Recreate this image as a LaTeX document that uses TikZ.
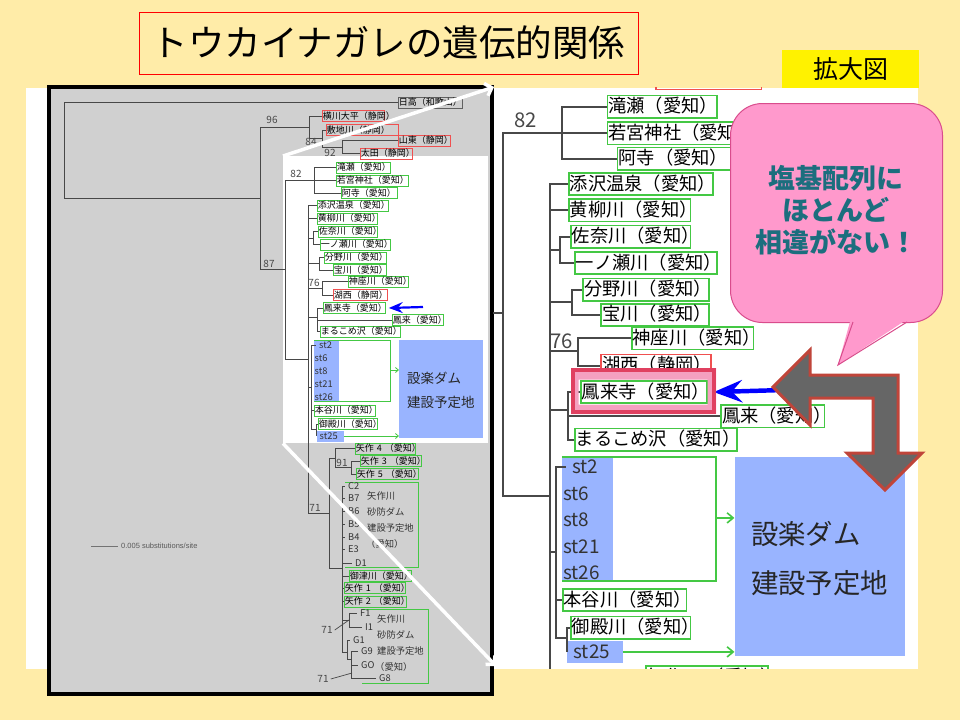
\documentclass[tikz,border=0pt]{standalone}
\usepackage{fontspec}
\usepackage{tikz}
\usetikzlibrary{arrows.meta}
\newfontfamily\jp{Noto Sans CJK JP}
\setsansfont{Liberation Sans}
\definecolor{bgyellow}{HTML}{FFECA8}
\definecolor{panelgray}{HTML}{D0D0D0}
\definecolor{treeline}{HTML}{484848}
\definecolor{siteg}{HTML}{44C844}
\definecolor{siter}{HTML}{F05050}
\definecolor{sitek}{HTML}{606060}
\definecolor{bluefill}{HTML}{99B4FF}
\definecolor{callpink}{HTML}{FF99CC}
\definecolor{callline}{HTML}{D94C8C}
\definecolor{callteal}{HTML}{1C6E7E}
\definecolor{bentgray}{HTML}{666666}
\definecolor{bentred}{HTML}{C0453A}
\definecolor{hlred}{HTML}{E04060}
\definecolor{hlpink}{HTML}{F4A0C0}
\newcommand{\sitefont}{\jp\fontsize{9}{10}\selectfont}
\newcommand{\bootfont}{\jp\fontsize{10}{11}\selectfont}
\newcommand{\leaffont}{\jp\fontsize{9.3}{10}\selectfont}
\newcommand{\notefont}{\jp\fontsize{9.3}{10}\selectfont}
\newcommand{\damfont}{\jp\fontsize{13.5}{15}\selectfont}
\newcommand{\titlefont}{\jp\fontsize{36.5}{40}\selectfont}
\newcommand{\callfont}{\jp\bfseries\fontsize{27}{32}\selectfont}
\tikzset{
        tline/.style={draw=treeline, line width=1pt},
        sitebox/.style={draw, line width=0.8pt, anchor=west, font=\sitefont,
                        inner xsep=0.5pt, inner ysep=1pt, text height=7.5pt,
                        text depth=1.5pt, align=left},
        gsite/.style={sitebox, draw=siteg},
        rsite/.style={sitebox, draw=siter},
        ksite/.style={sitebox, draw=sitek},
        boot/.style={font=\bootfont, text=treeline, inner sep=0pt},
        leaf/.style={font=\leaffont, text=black!80, anchor=west, inner xsep=3pt,
                     inner ysep=0pt},
        grpnote/.style={font=\notefont, text=black!80, anchor=west, inner sep=0pt},
        grpline/.style={draw=siteg, line width=0.8pt},
        damtext/.style={font=\damfont, text=black!85, anchor=west, inner sep=0pt},
        garrow/.style={draw=siteg, line width=0.8pt,
                       -{Straight Barb[length=3pt, width=5pt]}},
        bluearrow/.style={draw=blue, line width=2.2pt,
                          -{Stealth[length=14pt, width=11pt, inset=5pt]}},
        zoomline/.style={draw=white, line width=3.5pt,
                         -{Straight Barb[length=6pt, width=13pt]}},
}
\newcommand{\drawtree}{%
  % leaves with boxes
  \node[ksite, text width=63pt] (hidaka) at (398,102.5) {日高（和歌山）};
  \node[rsite, text width=61pt] (yokokawa) at (322,116) {横川大平（静岡）};
  \node[rsite, text width=71pt] (shikiji) at (326,130) {敷地川（静岡）};
  \node[rsite, text width=51pt] (santo) at (398,140.5) {山東（静岡）};
  \node[rsite, text width=51pt] (ota) at (360,153.5) {太田（静岡）};
  \node[gsite, text width=53pt] (takise) at (336,167.5) {滝瀬（愛知）};
  \node[gsite, text width=71pt] (wakamiya) at (336,180.5) {若宮神社（愛知）};
  \node[gsite, text width=55pt] (adera) at (341,193) {阿寺（愛知）};
  \node[gsite, text width=70pt] (soezawa) at (317,205.5) {添沢温泉（愛知）};
  \node[gsite, text width=59pt] (koyanagi) at (317,218.5) {黄柳川（愛知）};
  \node[gsite, text width=58pt] (sana) at (318,231.5) {佐奈川（愛知）};
  \node[gsite, text width=69pt] (ichinose) at (320,244.5) {一ノ瀬川（愛知）};
  \node[gsite, text width=61pt] (wano) at (324,257.5) {分野川（愛知）};
  \node[gsite, text width=52pt] (takara) at (333,270) {宝川（愛知）};
  \node[gsite, text width=59pt] (kanza) at (348,281.5) {神座川（愛知）};
  \node[rsite, text width=53pt] (kosai) at (333,295) {湖西（静岡）};
  \node[gsite, text width=61pt] (horaiji) at (323,308) {鳳来寺（愛知）};
  \node[gsite, text width=50pt] (horai) at (392,320) {鳳来（愛知）};
  \node[gsite, text width=79pt] (marukome) at (320,331.5) {まるこめ沢（愛知）};
  % dam site block
  \fill[bluefill] (314,340) rectangle (339,401);
  \fill[bluefill] (316.5,430.5) rectangle (344,441.5);
  \node[fill=bluefill, minimum width=84pt, minimum height=98pt, inner sep=0pt,
        anchor=north west] (dam) at (399,340) {};
  \node[damtext] (dam1) at (407,378) {設楽ダム};
  \node[damtext] (dam2) at (407,402) {建設予定地};
  \draw[grpline] (314,340) -| (390,401) -- (314,401);
  \node[leaf] (st2) at (316,345) {st2};
  \node[leaf] (st6) at (311.5,358) {st6};
  \node[leaf] (st8) at (311.5,371) {st8};
  \node[leaf] (st21) at (311.5,384) {st21};
  \node[leaf] (st26) at (311.5,397) {st26};
  \node[leaf] (st25) at (316.5,436) {st25};
  \node[gsite, text width=60pt] (hondani) at (314,410.5) {本谷川（愛知）};
  \node[gsite, text width=58pt] (goden) at (318,424) {御殿川（愛知）};
  \coordinate (stout) at (390,370);
  \coordinate (st25end) at (344,436);
  \draw[garrow] (stout) -- (stout -| dam.west);
  \draw[garrow] (st25end) -- (st25end -| dam.west);
  % lower group
  \node[gsite, text width=59pt] (yahagi4) at (355,448.5) {矢作~4~（愛知）};
  \node[gsite, text width=60pt] (yahagi3) at (360,461) {矢作~3~（愛知）};
  \node[gsite, text width=61pt] (yahagi5) at (356,474) {矢作~5~（愛知）};
  \draw[grpline] (345,482) -| (418,567) -- (345,567);
  \node[leaf] (c2) at (345,486) {C2};
  \node[leaf] (b7) at (345,498.5) {B7};
  \node[leaf] (b6) at (345,511.5) {B6};
  \node[leaf] (b5) at (345,524.5) {B5};
  \node[leaf] (b4) at (345,537) {B4};
  \node[leaf] (e3) at (345,549.5) {E3};
  \node[leaf] (d1) at (352,563) {D1};
  \node[grpnote] (cn1) at (367,496) {矢作川};
  \node[grpnote] (cn2) at (367,512) {砂防ダム};
  \node[grpnote] (cn3) at (367,528) {建設予定地};
  \node[grpnote] (cn4) at (366,544) {（愛知）};
  \node[gsite, text width=61pt] (otsu) at (349,576) {御津川（愛知）};
  \node[gsite, text width=60pt] (yahagi1) at (344,588) {矢作~1~（愛知）};
  \node[gsite, text width=61pt] (yahagi2) at (344,601.5) {矢作~2~（愛知）};
  \draw[grpline] (362,609) -| (428,683) -- (362,683);
  \node[leaf] (f1) at (357,613) {F1};
  \node[leaf] (i1) at (362,627) {I1};
  \node[leaf] (g1) at (350,640) {G1};
  \node[leaf] (g9) at (358,651.5) {G9};
  \node[leaf] (g0) at (358,665) {GO};
  \node[leaf] (g8) at (376,678) {G8};
  \node[grpnote] (gn1) at (377,619) {矢作川};
  \node[grpnote] (gn2) at (377,635) {砂防ダム};
  \node[grpnote] (gn3) at (377,651) {建設予定地};
  \node[grpnote] (gn4) at (375,667) {（愛知）};
  % branch points
  \coordinate (r) at (64,150.5);
  \coordinate (n96) at (260,198);
  \coordinate (n309) at (309,127);
  \coordinate (n84) at (322,138);
  \coordinate (n92) at (342,147);
  \coordinate (n87) at (285,269);
  \coordinate (n82) at (314,180.5);
  \coordinate (nB) at (308,359);
  \coordinate (nSana) at (313,238);
  \coordinate (nWano) at (319,263.5);
  \coordinate (n76) at (322,288);
  \coordinate (nH) at (317,317);
  \coordinate (nS) at (311,387);
  \coordinate (nG) at (316.5,429);
  \coordinate (n71) at (329,513);
  \coordinate (n91a) at (335,458);
  \coordinate (n91) at (351,467);
  \coordinate (nC) at (342,568);
  \coordinate (nF) at (349,620);
  \coordinate (nGg) at (347,652);
  \coordinate (nG2) at (351,659);
  % branches
  \draw[tline] (r) |- (hidaka.west);
  \draw[tline] (r) |- (n96);
  \foreach \c in {n309,n87} \draw[tline] (n96) |- (\c);
  \foreach \c in {yokokawa.west,n84} \draw[tline] (n309) |- (\c);
  \foreach \c in {shikiji.west,n92} \draw[tline] (n84) |- (\c);
  \foreach \c in {santo,ota} \draw[tline] (n92) |- (\c.west);
  \foreach \c in {n82,nB} \draw[tline] (n87) |- (\c);
  \foreach \c in {takise,wakamiya,adera} \draw[tline] (n82) |- (\c.west);
  \foreach \c in {soezawa.west,koyanagi.west,nSana,nWano,n76,nH,nS,n71}
    \draw[tline] (nB) |- (\c);
  \foreach \c in {sana,ichinose} \draw[tline] (nSana) |- (\c.west);
  \foreach \c in {wano,takara} \draw[tline] (nWano) |- (\c.west);
  \foreach \c in {kanza,kosai} \draw[tline] (n76) |- (\c.west);
  \foreach \c in {horaiji,horai,marukome} \draw[tline] (nH) |- (\c.west);
  \foreach \c in {st2.west,hondani.west,nG} \draw[tline] (nS) |- (\c);
  \foreach \c in {goden,st25} \draw[tline] (nG) |- (\c.west);
  \foreach \c in {n91a,nC} \draw[tline] (n71) |- (\c);
  \foreach \c in {yahagi4.west,n91} \draw[tline] (n91a) |- (\c);
  \foreach \c in {yahagi3,yahagi5} \draw[tline] (n91) |- (\c.west);
  \foreach \c in {c2.west,b7.west,b6.west,b5.west,b4.west,e3.west,d1.west,
                  otsu.west,yahagi1.west,yahagi2.west,nF,nGg}
    \draw[tline] (nC) |- (\c);
  \foreach \c in {f1,i1} \draw[tline] (nF) |- (\c.west);
  \foreach \c in {g1.west,nG2} \draw[tline] (nGg) |- (\c);
  \foreach \c in {g9,g0,g8} \draw[tline] (nG2) |- (\c.west);
  % bootstrap values
  \node[boot] (b96) at (272,120) {96};
  \node[boot] (b84) at (311,142) {84};
  \node[boot] (b92) at (330,153) {92};
  \node[boot] (b82) at (296,174) {82};
  \node[boot] (b87) at (269,263.5) {87};
  \node[boot] (b76) at (314,283) {76};
  \node[boot] (b91) at (342,463) {91};
  \node[boot] (b71a) at (315,508) {71};
  \node[boot] (b71b) at (327,630) {71};
  \node[boot] (b71c) at (323,679) {71};
  \coordinate (g2mid) at (352,673);
  \draw[tline, line width=0.7pt] ([xshift=2pt]b71b.east) -- (nF);
  \draw[tline, line width=0.7pt] ([xshift=2pt]b71c.east) -- (g2mid);
  % pointer to Horaiji
  \coordinate (bluestart) at (423,307);
  \draw[bluearrow] (bluestart) -- ([xshift=3pt]horaiji.east);
}

\begin{document}
\begin{tikzpicture}[x=1pt, y=-1pt]
  \useasboundingbox (0,0) rectangle (960,720);
  \fill[bgyellow] (0,0) rectangle (960,720);
  \fill[white] (26,88) rectangle (918,669);
  % original tree
  \fill[black!45] (50,88) rectangle (494,696);
  \node[draw=black, line width=3.5pt, fill=panelgray, minimum width=443pt,
        minimum height=607pt, inner sep=0pt, anchor=north west] (panel) at (47,85) {};
  \node[fill=white, minimum width=205pt, minimum height=287pt, inner sep=0pt,
        anchor=north west] (zoomwin) at (283,156) {};
  \drawtree
  \coordinate (sb) at (91,546);
  \node[font=\sffamily\fontsize{7.5}{8}\selectfont, text=black!65, anchor=west,
        inner sep=0pt] (sbtext) at (121,546) {0.005 substitutions/site};
  \draw[tline, line width=0.8pt, draw=black!55] (sb) -- ([xshift=-3pt]sbtext.west);
  \coordinate (ztr) at (494,87);
  \coordinate (zbr) at (496,666);
  \draw[zoomline] (zoomwin.north west) -- (ztr);
  \draw[zoomline] (zoomwin.south west) -- (zbr);
  % enlarged view
  \begin{scope}[transform canvas={shift={(-75.55,-233.2)}, scale=2.03}]
    \clip (280.1,158.2) rectangle (489.4,444.4);
    \drawtree
  \end{scope}
  \fill[hlpink, even odd rule] (571,368) rectangle (716,414)
                               (578.5,379.5) rectangle (707.5,404.5);
  \draw[hlred, line width=4pt] (573,370) rectangle (714,412);
  % callout
  \node[fill=callpink, draw=callline, line width=1pt, rounded corners=32pt,
        minimum width=212pt, minimum height=219pt, inner sep=0pt,
        anchor=north west] (callout) at (730,103) {};
  \coordinate (calltip) at (838,365);
  \fill[callpink] (851,318) -- (calltip) -- (909,318) -- cycle;
  \draw[callline, line width=1pt] (853,322) -- (calltip) -- (907,322);
  \node[font=\callfont, text=callteal, align=center] (calltext) at (836,210)
       {塩基配列に\\ほとんど\\相違がない！};
  % bent double arrow
  \draw[fill=bentgray, draw=bentred, line width=3pt, line join=miter]
       (773,387) -- (810,350) -- (810,375) -- (898,375) -- (898,453)
       -- (922,453) -- (885,490) -- (847,453) -- (873,453) -- (873,398)
       -- (810,398) -- (810,425) -- cycle;
  % title and tag
  \node[draw=red, line width=1pt, minimum width=499pt, minimum height=62pt,
        inner sep=0pt, font=\titlefont] (title) at (388.5,43)
       {トウカイナガレの遺伝的関係};
  \node[fill=yellow, minimum width=137pt, minimum height=38pt, inner sep=0pt,
        font=\jp\fontsize{25}{28}\selectfont] (kakudai) at (850.5,69) {拡大図};
\end{tikzpicture}
\end{document}
